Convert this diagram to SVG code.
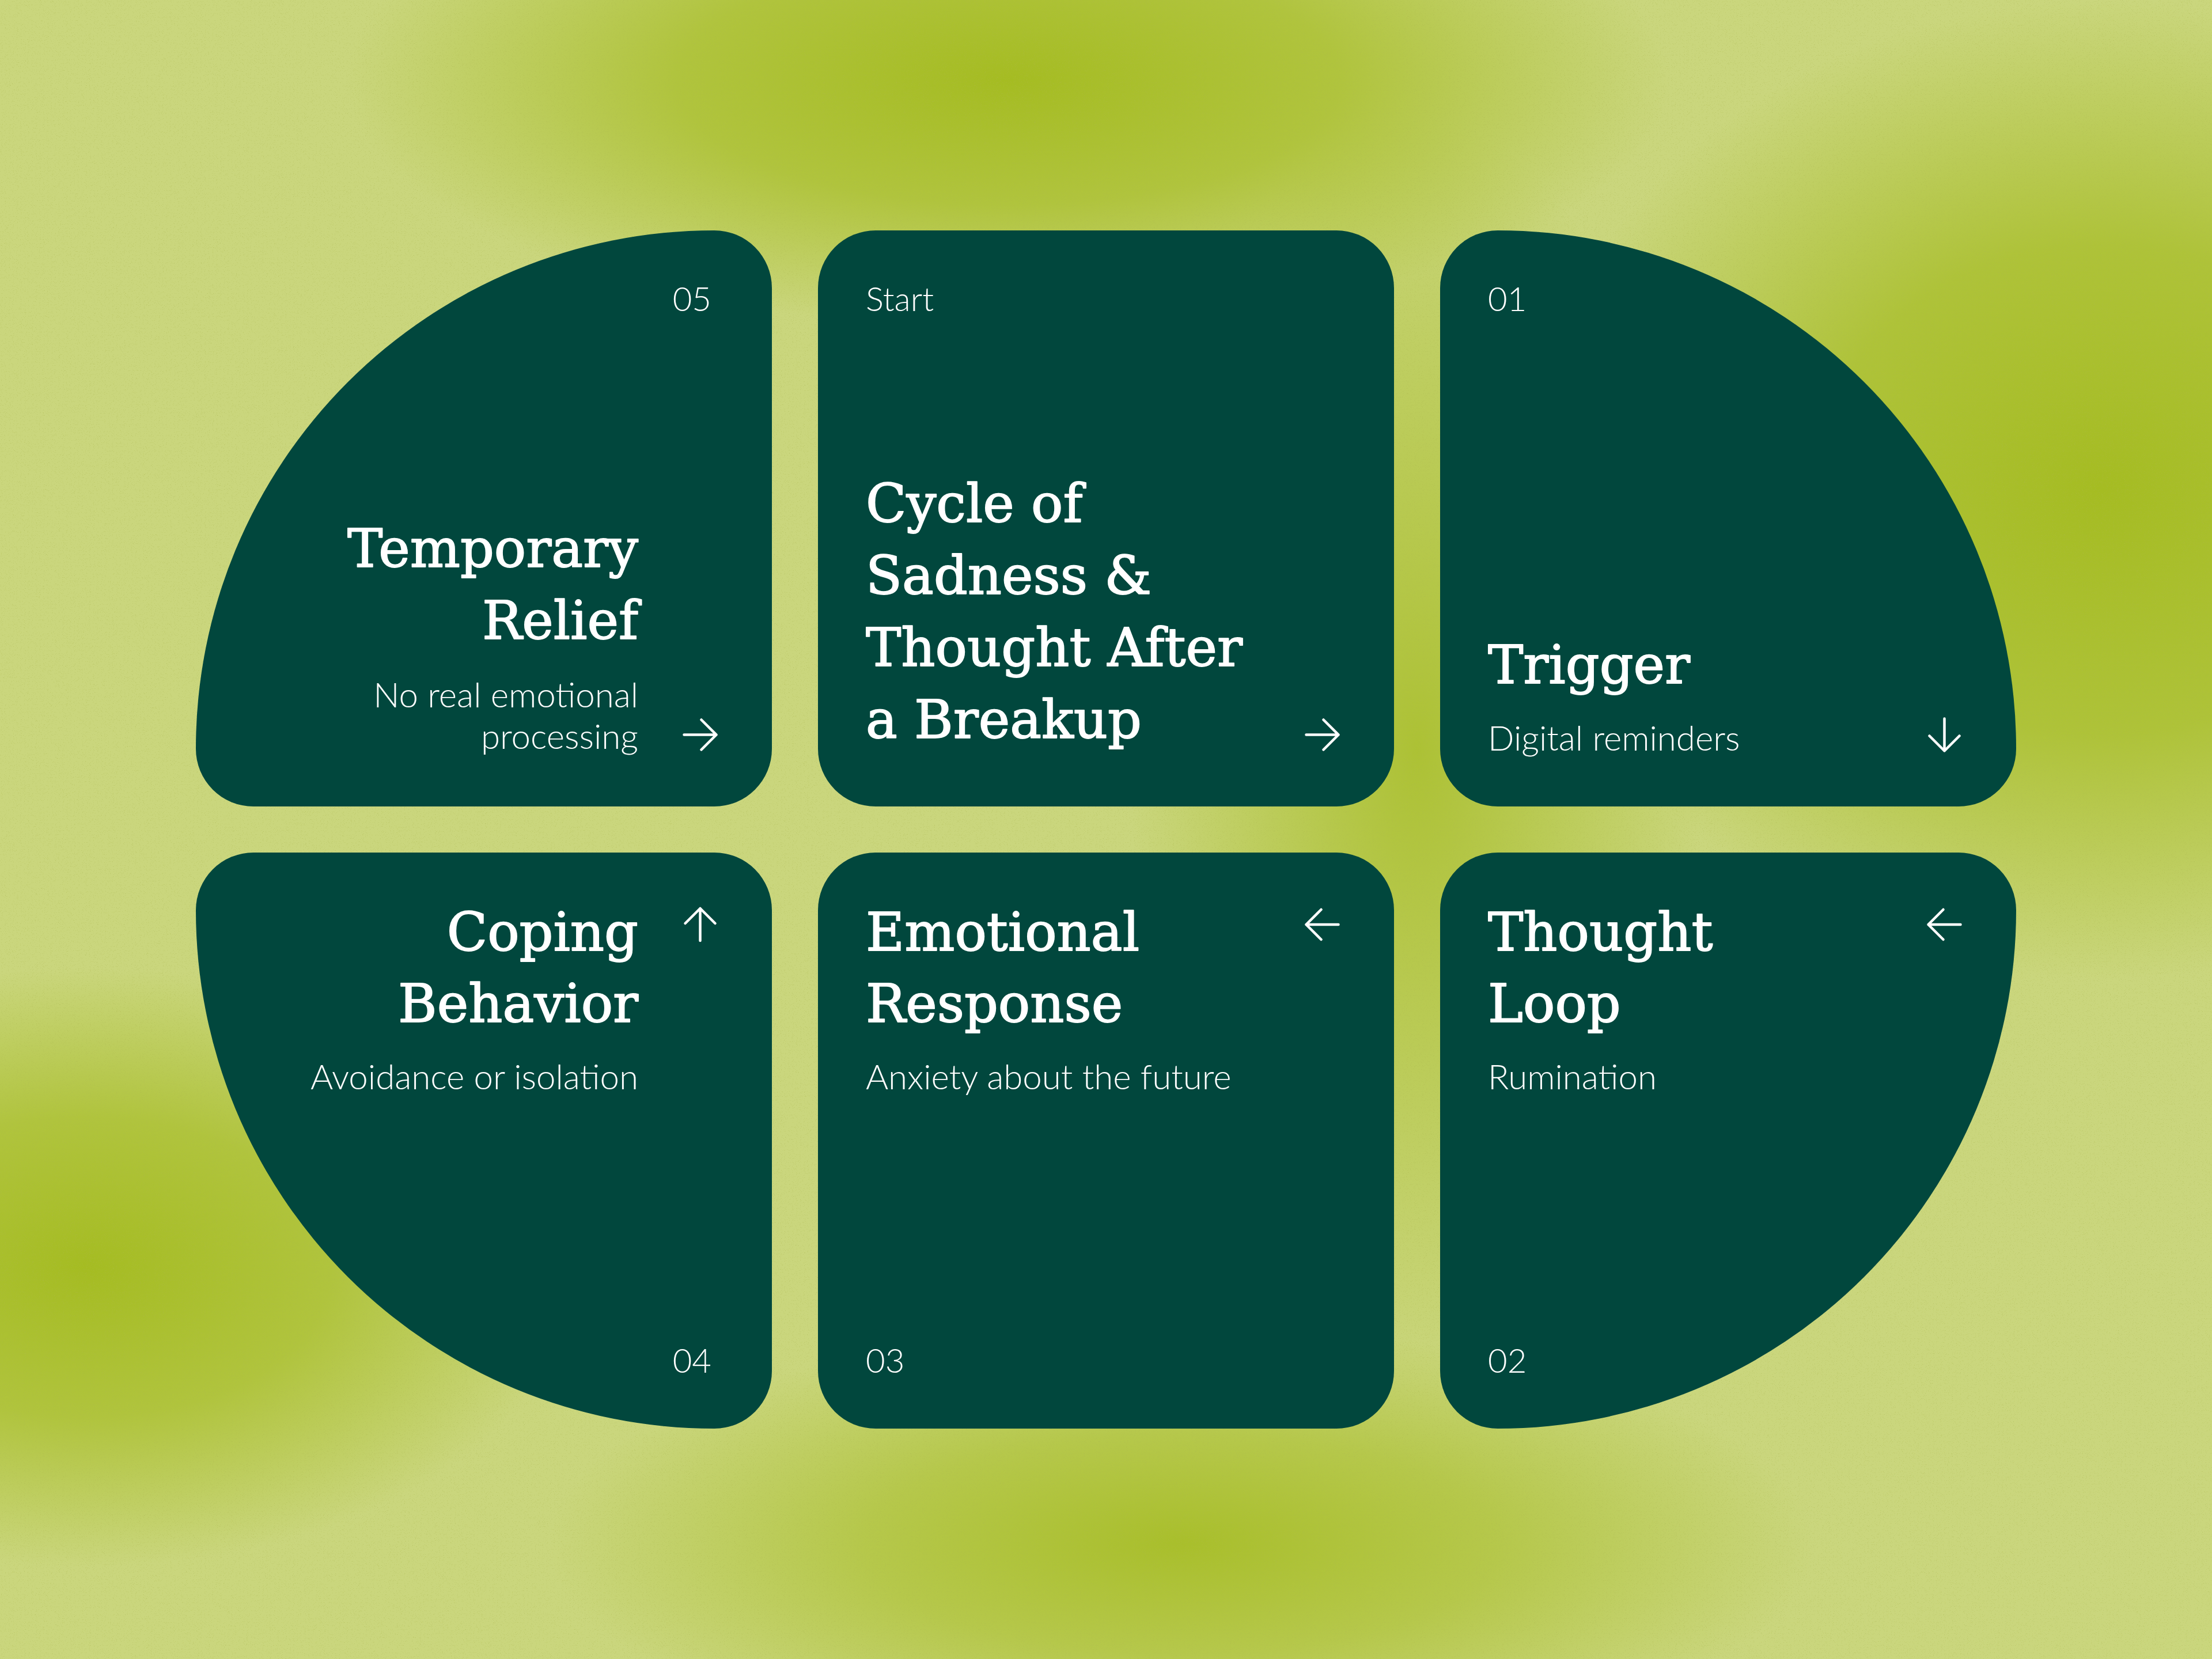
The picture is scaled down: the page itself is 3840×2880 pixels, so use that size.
<svg xmlns="http://www.w3.org/2000/svg" width="3840" height="2880" viewBox="0 0 3840 2880">
  <defs>
    <style>
      .tile { fill: #01473d; }
      .h { font-family: "DejaVu Serif", "Liberation Serif", serif; font-size: 92px; fill: #ffffff; stroke: #ffffff; stroke-width: 1.8; stroke-linejoin: round; }
      .s { font-family: Lato, "Open Sans", sans-serif; font-weight: 300; font-size: 60px; fill: #ffffff; }
      .n { font-family: Lato, "Open Sans", sans-serif; font-weight: 300; font-size: 58px; fill: #ffffff; }
      .arw { fill: none; stroke: #ffffff; stroke-width: 4.5; stroke-linecap: round; stroke-linejoin: round; }
      .r { text-anchor: end; }
    </style>
    <radialGradient id="gTop" gradientUnits="userSpaceOnUse" cx="0" cy="0" r="1" gradientTransform="translate(1750 140) scale(1150 430)">
      <stop offset="0" stop-color="#a5bc22" stop-opacity="1"/>
      <stop offset="0.5" stop-color="#a5bc22" stop-opacity="0.7"/>
      <stop offset="1" stop-color="#a5bc22" stop-opacity="0"/>
    </radialGradient>
    <radialGradient id="gRight" gradientUnits="userSpaceOnUse" cx="0" cy="0" r="1" gradientTransform="translate(3650 850) scale(1000 850)">
      <stop offset="0" stop-color="#a5bc22" stop-opacity="1"/>
      <stop offset="0.5" stop-color="#a5bc22" stop-opacity="0.75"/>
      <stop offset="1" stop-color="#a5bc22" stop-opacity="0"/>
    </radialGradient>
    <radialGradient id="gLeft" gradientUnits="userSpaceOnUse" cx="0" cy="0" r="1" gradientTransform="translate(150 2200) scale(850 520)">
      <stop offset="0" stop-color="#a5bc22" stop-opacity="1"/>
      <stop offset="0.5" stop-color="#a5bc22" stop-opacity="0.7"/>
      <stop offset="1" stop-color="#a5bc22" stop-opacity="0"/>
    </radialGradient>
    <radialGradient id="gBottom" gradientUnits="userSpaceOnUse" cx="0" cy="0" r="1" gradientTransform="translate(2050 2680) scale(1100 380)">
      <stop offset="0" stop-color="#a5bc22" stop-opacity="0.9"/>
      <stop offset="0.5" stop-color="#a5bc22" stop-opacity="0.55"/>
      <stop offset="1" stop-color="#a5bc22" stop-opacity="0"/>
    </radialGradient>
    <radialGradient id="gMid" gradientUnits="userSpaceOnUse" cx="0" cy="0" r="1" gradientTransform="translate(2460 1300) scale(500 1100)">
      <stop offset="0" stop-color="#a5bc22" stop-opacity="0.8"/>
      <stop offset="1" stop-color="#a5bc22" stop-opacity="0"/>
    </radialGradient>
    <filter id="grain" filterUnits="userSpaceOnUse" x="0" y="0" width="3840" height="2880">
      <feTurbulence type="fractalNoise" baseFrequency="0.85" numOctaves="2" seed="7" result="n"/>
      <feColorMatrix in="n" type="matrix" values="0 0 0 0 0.42  0 0 0 0 0.48  0 0 0 0 0.08  9 0 0 0 -5.6"/>
    </filter>
    <path id="arrowR" class="arw" d="M -28 0 H 28 M 2 -26 L 28 0 L 2 26"/>
  </defs>

  <g id="background">
    <rect x="0" y="0" width="3840" height="2880" fill="#cad67d"/>
    <rect x="0" y="0" width="3840" height="2880" fill="url(#gMid)"/>
    <rect x="0" y="0" width="3840" height="2880" fill="url(#gTop)"/>
    <rect x="0" y="0" width="3840" height="2880" fill="url(#gRight)"/>
    <rect x="0" y="0" width="3840" height="2880" fill="url(#gLeft)"/>
    <rect x="0" y="0" width="3840" height="2880" fill="url(#gBottom)"/>
    <rect x="0" y="0" width="3840" height="2880" filter="url(#grain)" opacity="0.35"/>
  </g>

  <g id="node-temporary-relief">
    <path class="tile" d="M 340 1300 A 900 900 0 0 1 1240 400 A 100 100 0 0 1 1340 500 L 1340 1300 A 100 100 0 0 1 1240 1400 L 440 1400 A 100 100 0 0 1 340 1300 Z"/>
    <text class="n r" x="1235" y="540">05</text>
    <text class="h r" x="1108" y="984">Temporary</text>
    <text class="h r" x="1108" y="1109">Relief</text>
    <text class="s r" x="1108" y="1228">No real emotional</text>
    <text class="s r" x="1108" y="1300">processing</text>
  </g>

  <g id="node-start">
    <rect class="tile" x="1420" y="400" width="1000" height="1000" rx="100" ry="100"/>
    <text class="n" x="1503" y="540">Start</text>
    <text class="h" x="1503" y="906">Cycle of</text>
    <text class="h" x="1503" y="1031">Sadness &amp;</text>
    <text class="h" x="1503" y="1156">Thought After</text>
    <text class="h" x="1503" y="1281">a Breakup</text>
  </g>

  <g id="node-trigger">
    <path class="tile" d="M 2500 500 A 100 100 0 0 1 2600 400 A 900 900 0 0 1 3500 1300 A 100 100 0 0 1 3400 1400 L 2600 1400 A 100 100 0 0 1 2500 1300 Z"/>
    <text class="n" x="2583" y="540">01</text>
    <text class="h" x="2583" y="1186">Trigger</text>
    <text class="s" x="2583" y="1303">Digital reminders</text>
  </g>

  <g id="node-coping-behavior">
    <path class="tile" d="M 340 1580 A 100 100 0 0 1 440 1480 L 1240 1480 A 100 100 0 0 1 1340 1580 L 1340 2380 A 100 100 0 0 1 1240 2480 A 900 900 0 0 1 340 1580 Z"/>
    <text class="h r" x="1108" y="1650">Coping</text>
    <text class="h r" x="1108" y="1774">Behavior</text>
    <text class="s r" x="1108" y="1891">Avoidance or isolation</text>
    <text class="n r" x="1235" y="2383">04</text>
  </g>

  <g id="node-emotional-response">
    <rect class="tile" x="1420" y="1480" width="1000" height="1000" rx="100" ry="100"/>
    <text class="h" x="1503" y="1650">Emotional</text>
    <text class="h" x="1503" y="1774">Response</text>
    <text class="s" x="1503" y="1891">Anxiety about the future</text>
    <text class="n" x="1503" y="2383">03</text>
  </g>

  <g id="node-thought-loop">
    <path class="tile" d="M 2500 1580 A 100 100 0 0 1 2600 1480 L 3400 1480 A 100 100 0 0 1 3500 1580 A 900 900 0 0 1 2600 2480 A 100 100 0 0 1 2500 2380 Z"/>
    <text class="h" x="2583" y="1650">Thought</text>
    <text class="h" x="2583" y="1774">Loop</text>
    <text class="s" x="2583" y="1891">Rumination</text>
    <text class="n" x="2583" y="2383">02</text>
  </g>

  <g id="connectors">
    <use href="#arrowR" transform="translate(1215.5 1275.5)"/>
    <use href="#arrowR" transform="translate(2295.5 1275.5)"/>
    <use href="#arrowR" transform="translate(3375.5 1275.5) rotate(90)"/>
    <use href="#arrowR" transform="translate(1215.5 1605) rotate(-90)"/>
    <use href="#arrowR" transform="translate(2295.5 1605) rotate(180)"/>
    <use href="#arrowR" transform="translate(3375.5 1605) rotate(180)"/>
  </g>
</svg>
